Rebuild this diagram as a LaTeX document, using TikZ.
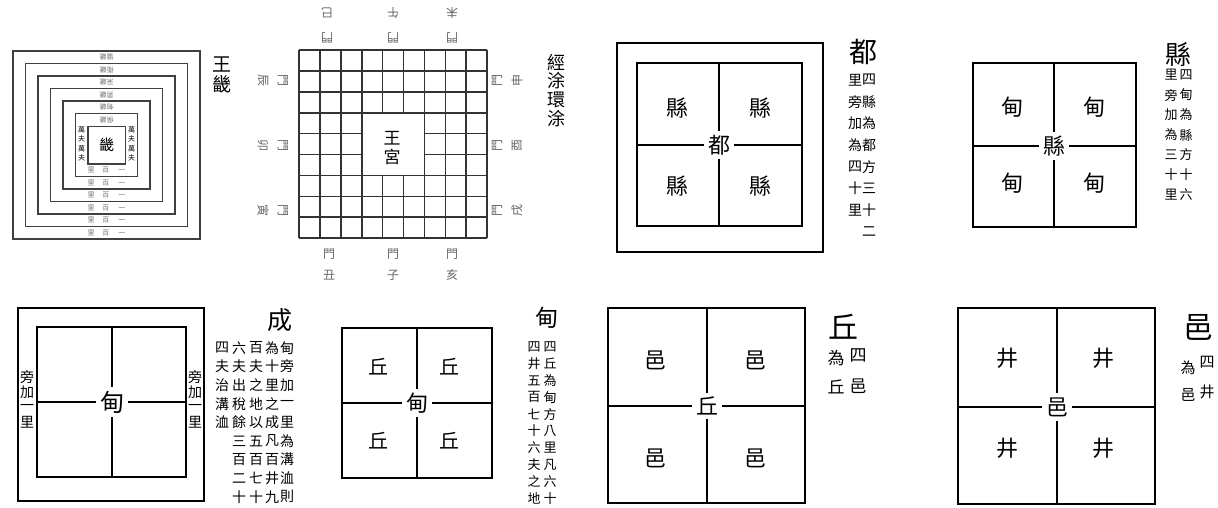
\documentclass[tikz,border=0pt]{standalone}
\usepackage{fontspec}
\newfontfamily\cjk{Noto Sans CJK TC}
\newcommand\fsz[1]{\fontsize{#1}{#1}\selectfont}
% vertical column of characters: name, x, first y, step, size, list
\newcommand\vcol[6]{%
  \foreach \c [count=\i] in {#6} {\node[txt,font=\cjk\fsz{#5}] (#1-\i) at (#2,{#3+(\i-1)*#4}) {\c};}}
\begin{document}
\begin{tikzpicture}[x=1pt,y=-1pt,
  txt/.style={inner sep=0pt,font=\cjk},
  box/.style={draw,line width=2.2pt},
  div/.style={line width=2.2pt},
  lab/.style={txt,font=\cjk\fsz{22}},
  ctr/.style={fill=white,inner sep=4pt,font=\cjk\fsz{22}},
  ring/.style={draw=black!75,line width=1.5pt},
  tiny/.style={txt,text=black!55,font=\cjk\fsz{7}},
  gridl/.style={draw=black!80,line width=1.6pt},
  gate/.style={txt,text=black!60,font=\cjk\fsz{12}}]
\useasboundingbox[fill=white] (0,0) rectangle (1218,507);

% ---------------- Panel 1 : 王畿 ----------------
\foreach \k in {0,...,5}
  \draw[ring] ({13+12.5*\k},{51+12.5*\k}) rectangle ({200-12.5*\k},{239-12.5*\k});
\node[ring,minimum width=37.5pt,minimum height=37.5pt,inner sep=0pt,font=\cjk\fsz{15}] (jic) at (106.5,145) {畿};
\foreach \k/\n in {0/蠻,1/衛,2/采,3/男,4/甸,5/侯}
  \node[tiny,rotate=180] (ji-\k) at (106.5,{57.25+12.5*\k}) {\n 畿};
\foreach \k in {0,...,5}
  \node[tiny] (li-\k) at (106.5,{232.75-12.5*\k}) {里\hspace{8pt}百\hspace{9pt}一};
\vcol{wl}{81.5}{130}{9.3}{7}{萬,夫,萬,夫}
\vcol{wr}{131.5}{130}{9.3}{7}{萬,夫,萬,夫}
\vcol{wt}{222}{64}{20}{19}{王,畿}

% ---------------- Panel 2 : 經涂環涂 ----------------
\foreach \i in {0,...,9} {
  \draw[gridl] ({299+20.9*\i},50) -- ({299+20.9*\i},238.1);
  \draw[gridl] (299,{50+20.9*\i}) -- (487.1,{50+20.9*\i});
}
\fill[white] (362.6,113.6) rectangle (423.5,174.5);
\vcol{wg}{392}{138}{19}{17}{王,宮}
% top gates (upside down)
\foreach \x/\c [count=\j] in {327/巳,393/午,452/未} {
  \node[gate,rotate=180] (tc-\j) at (\x,13) {\c};
  \node[gate,rotate=180] (tm-\j) at (\x,38) {門};
}
% bottom gates
\foreach \x/\c [count=\j] in {329/丑,393/子,452/亥} {
  \node[gate] (bm-\j) at (\x,254) {門};
  \node[gate] (bc-\j) at (\x,275) {\c};
}
% left gates
\foreach \y/\c [count=\j] in {80/辰,145/卯,210/寅} {
  \node[gate,rotate=-90] (lc-\j) at (263,\y) {\c};
  \node[gate,rotate=-90] (lm-\j) at (283,\y) {門};
}
% right gates
\foreach \y/\c [count=\j] in {80/申,145/酉,210/戌} {
  \node[gate,rotate=90] (rm-\j) at (497,\y) {門};
  \node[gate,rotate=90] (rc-\j) at (517,\y) {\c};
}
\vcol{jt}{556}{62}{19}{18}{經,涂,環,涂}

% ---------------- Panel 3 : 都 ----------------
\draw[box] (617,43) rectangle (823,252);
\draw[box] (637,63) rectangle (802,226);
\draw[div] (719,63) -- (719,226);
\draw[div] (637,145) -- (802,145);
\node[ctr] (du) at (719,145) {都};
\node[lab] (du-a) at (677,108) {縣};
\node[lab] (du-b) at (760,108) {縣};
\node[lab] (du-c) at (677,186) {縣};
\node[lab] (du-d) at (760,186) {縣};
\node[txt,font=\cjk\fsz{28}] (dut) at (863,52) {都};
\vcol{dr}{869}{80}{21.7}{14}{四,縣,為,都,方,三,十,二}
\vcol{dl}{855}{80}{21.7}{14}{里,旁,加,為,四,十,里}

% ---------------- Panel 4 : 縣 ----------------
\draw[box] (973,63) rectangle (1136,227);
\draw[div] (1054,63) -- (1054,227);
\draw[div] (973,146) -- (1136,146);
\node[ctr] (xi) at (1054,146) {縣};
\node[lab] (xi-a) at (1012,107) {甸};
\node[lab] (xi-b) at (1094,107) {甸};
\node[lab] (xi-c) at (1012,183) {甸};
\node[lab] (xi-d) at (1094,183) {甸};
\node[txt,font=\cjk\fsz{26}] (xit) at (1178,54) {縣};
\vcol{xr}{1186}{75}{20}{13}{四,甸,為,縣,方,十,六}
\vcol{xl}{1171}{75}{20}{13}{里,旁,加,為,三,十,里}

% ---------------- Panel 5 : 成 ----------------
\draw[box] (18,308) rectangle (204,501);
\draw[box] (37,327) rectangle (186,477);
\draw[div] (112,327) -- (112,477);
\draw[div] (37,402) -- (186,402);
\node[ctr,font=\cjk\fsz{24}] (ch) at (112,402) {甸};
\vcol{chl}{27}{377}{15}{14}{旁,加,一,里}
\vcol{chr}{195}{377}{15}{14}{旁,加,一,里}
\node[txt,font=\cjk\fsz{25}] (cht) at (280,320) {成};
\vcol{c1}{287}{348}{18.6}{14}{甸,旁,加,一,里,為,溝,洫,則}
\vcol{c2}{272}{348}{18.6}{14}{為,十,里,之,成,凡,百,井,九}
\vcol{c3}{256}{348}{18.6}{14}{百,夫,之,地,以,五,百,七,十}
\vcol{c4}{239}{348}{18.6}{14}{六,夫,出,稅,餘,三,百,二,十}
\vcol{c5}{222}{348}{18.6}{14}{四,夫,治,溝,洫}

% ---------------- Panel 6 : 甸 ----------------
\draw[box] (342,328) rectangle (492,478);
\draw[div] (417,328) -- (417,478);
\draw[div] (342,403) -- (492,403);
\node[ctr] (di) at (417,403) {甸};
\node[lab,font=\cjk\fsz{20}] (di-a) at (378,367) {丘};
\node[lab,font=\cjk\fsz{20}] (di-b) at (449,367) {丘};
\node[lab,font=\cjk\fsz{20}] (di-c) at (378,441) {丘};
\node[lab,font=\cjk\fsz{20}] (di-d) at (449,441) {丘};
\node[txt,font=\cjk\fsz{23}] (dit) at (547,318) {甸};
\vcol{dir}{550}{347}{16.8}{13}{四,丘,為,甸,方,八,里,凡,六,十}
\vcol{dil}{534}{347}{16.8}{13}{四,井,五,百,七,十,六,夫,之,地}

% ---------------- Panel 7 : 丘 ----------------
\draw[box] (608,308) rectangle (805,503);
\draw[div] (707,308) -- (707,503);
\draw[div] (608,406) -- (805,406);
\node[ctr] (qi) at (707,406) {丘};
\node[lab] (qi-a) at (655,360) {邑};
\node[lab] (qi-b) at (755,360) {邑};
\node[lab] (qi-c) at (655,458) {邑};
\node[lab] (qi-d) at (755,458) {邑};
\node[txt,font=\cjk\fsz{30}] (qit) at (843,327) {丘};
\vcol{qr}{858}{355}{31}{17}{四,邑}
\vcol{ql}{836}{358}{29}{17}{為,丘}

% ---------------- Panel 8 : 邑 ----------------
\draw[box] (958,308) rectangle (1155,504);
\draw[div] (1057,308) -- (1057,504);
\draw[div] (958,407) -- (1155,407);
\node[ctr] (yi) at (1057,407) {邑};
\node[lab] (yi-a) at (1007,358) {井};
\node[lab] (yi-b) at (1103,358) {井};
\node[lab] (yi-c) at (1007,448) {井};
\node[lab] (yi-d) at (1103,448) {井};
\node[txt,font=\cjk\fsz{30}] (yit) at (1198,327) {邑};
\vcol{yr}{1207}{362}{30}{15}{四,井}
\vcol{yl}{1188}{368}{27}{15}{為,邑}
\end{tikzpicture}
\end{document}
